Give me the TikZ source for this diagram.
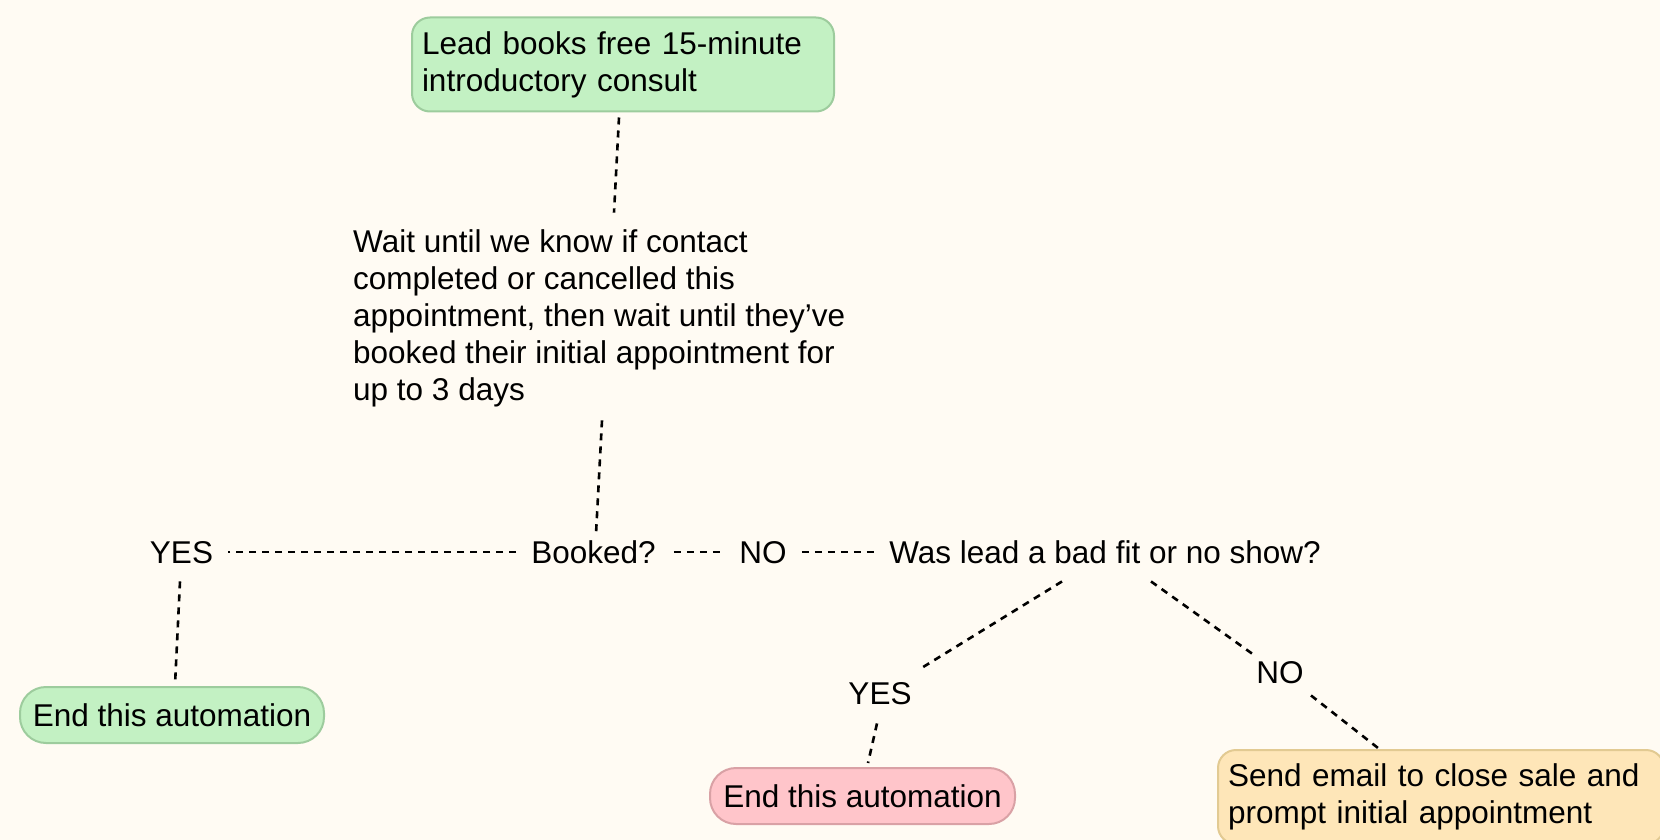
\documentclass[tikz,border=0pt]{standalone}
\usepackage{fontspec}
\setmainfont{Liberation Sans}
\usetikzlibrary{calc}
\definecolor{bg}{HTML}{FFFBF3}
\definecolor{gfill}{HTML}{C3F1C3}
\definecolor{gline}{HTML}{9DCC9D}
\definecolor{rfill}{HTML}{FFC5CA}
\definecolor{rline}{HTML}{D9A1A5}
\definecolor{ofill}{HTML}{FEE6B8}
\definecolor{oline}{HTML}{E2CA92}
\tikzset{
  every node/.style={font=\fontsize{31.5}{37}\selectfont},
  boxtwo/.style={draw, line width=2pt, rounded corners=18pt, align=left, inner xsep=10pt, inner ysep=0pt, minimum height=94pt},
  endbox/.style={draw, line width=2pt, rounded corners=26pt, inner sep=0pt, minimum height=56pt, text height=22.5pt, text depth=0pt},
  lbl/.style={inner sep=0pt, text height=22.5pt, text depth=0pt},
  conn/.style={line width=2.6pt, dash pattern=on 7pt off 6pt},
}
\begin{document}
\begin{tikzpicture}[x=1pt,y=-1pt]
\fill[bg] (0,0) rectangle (1660,840);
\useasboundingbox (0,0) rectangle (1660,840);

\node[boxtwo, fill=gfill, draw=gline, text width=402pt] (top) at (623,64.5)
  {Lead books free 15-minute\\introductory consult};
\node[inner sep=0pt, align=left, anchor=west] (wait) at (353,318.5)
  {Wait until we know if contact\\completed or cancelled this\\appointment, then wait until they’ve\\booked their initial appointment for\\up to 3 days};

\node[lbl] (yes1) at (181.5,552) {YES};
\node[lbl] (booked) at (593.5,552) {Booked?};
\node[lbl] (no1) at (763,552) {NO};
\node[lbl] (fit) at (1105,552) {Was lead a bad fit or no show?};

\node[endbox, fill=gfill, draw=gline, minimum width=304pt] (end1) at (172,715) {End this automation};
\node[lbl] (yes2) at (880,693) {YES};
\node[lbl] (no2) at (1280,672) {NO};
\node[endbox, fill=rfill, draw=rline, minimum width=305pt] (end2) at (862.5,796) {End this automation};
\node[boxtwo, fill=ofill, draw=oline, inner xsep=10pt, text width=426pt, anchor=west] (email) at (1217,797)
  {Send email to close sale and\\prompt initial appointment};

\draw[conn] ($(top.south)+(-4,5)$) -- ($(wait.north west)+(261,-17)$);
\draw[conn] ($(wait.south west)+(249,13)$) -- ($(booked.north)+(2.5,-6.5)$);
\draw[conn, shorten <=15pt, shorten >=15pt] (booked.west) -- (yes1.east);
\draw[conn, shorten <=18pt, shorten >=15pt] (booked.east) -- (no1.west);
\draw[conn, shorten <=15pt, shorten >=15pt] (no1.east) -- (fit.west);
\draw[conn] ($(yes1.south)+(-1.5,18)$) -- ($(end1.north)+(3,-1)$);
\draw[conn] ($(fit.south)+(-43,18)$) -- ($(yes2.north)+(39,-12)$);
\draw[conn] ($(fit.south)+(46,18)$) -- ($(no2.north)+(-28,-7)$);
\draw[conn] ($(no2.south)+(31,12)$) -- ($(email.north west)+(161,-1)$);
\draw[conn] ($(yes2.south)+(-3,19)$) -- ($(end2.north)+(5.5,-4)$);
\end{tikzpicture}
\end{document}
